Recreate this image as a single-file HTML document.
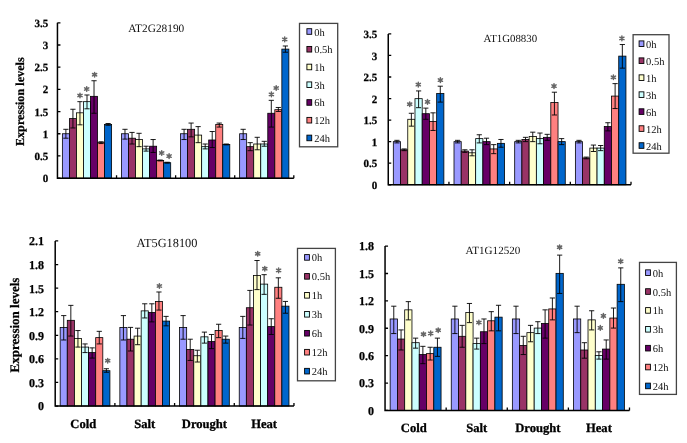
<!DOCTYPE html>
<html><head><meta charset="utf-8"><style>
html,body{margin:0;padding:0;background:#fff;}
body{width:687px;height:443px;overflow:hidden;}
svg{display:block;}
text{filter:grayscale(1);}
text{font-family:"Liberation Serif",serif;text-rendering:geometricPrecision;}
.tk{font-weight:bold;fill:#000;stroke:#000;stroke-width:0.25px;}
.tt{fill:#111;}
.lg{fill:#111;}
.yt{font-weight:bold;fill:#000;stroke:#000;stroke-width:0.25px;}
.ct{font-weight:bold;fill:#000;stroke:#000;stroke-width:0.3px;}
.sr{stroke:#666;stroke-width:1.5px;stroke-linecap:round;fill:none;}
</style></head><body>
<svg width="687" height="443" viewBox="0 0 687 443">
<rect width="687" height="443" fill="#fff"/>
<rect x="62.37" y="133.75" width="7.03" height="44.4" fill="#9999FF" stroke="#000" stroke-width="0.8"/>
<rect x="69.41" y="118.6" width="7.03" height="59.55" fill="#993366" stroke="#000" stroke-width="0.8"/>
<rect x="76.44" y="112.81" width="7.03" height="65.34" fill="#FFFFCC" stroke="#000" stroke-width="0.8"/>
<rect x="83.48" y="101.67" width="7.03" height="76.48" fill="#CCFFFF" stroke="#000" stroke-width="0.8"/>
<rect x="90.51" y="96.33" width="7.03" height="81.82" fill="#660066" stroke="#000" stroke-width="0.8"/>
<rect x="97.55" y="142.66" width="7.03" height="35.49" fill="#FF8080" stroke="#000" stroke-width="0.8"/>
<rect x="104.58" y="124.39" width="7.03" height="53.76" fill="#0066CC" stroke="#000" stroke-width="0.8"/>
<path d="M65.89 138.21V129.3M63.29 129.3H68.49M63.29 138.21H68.49" stroke="#000" stroke-width="0.9" fill="none"/>
<path d="M72.93 127.96V109.25M70.33 109.25H75.53M70.33 127.96H75.53" stroke="#000" stroke-width="0.9" fill="none"/>
<path d="M79.96 124.84V101.67M77.36 101.67H82.56M77.36 124.84H82.56" stroke="#000" stroke-width="0.9" fill="none"/>
<path d="M87 108.8V94.99M84.4 94.99H89.59M84.4 108.8H89.59" stroke="#000" stroke-width="0.9" fill="none"/>
<path d="M94.03 113.26V80.74M91.43 80.74H96.63M91.43 113.26H96.63" stroke="#000" stroke-width="0.9" fill="none"/>
<path d="M101.06 143.55V141.77M98.46 141.77H103.66M98.46 143.55H103.66" stroke="#000" stroke-width="0.9" fill="none"/>
<path d="M108.1 125.29V123.5M105.5 123.5H110.7M105.5 125.29H110.7" stroke="#000" stroke-width="0.9" fill="none"/>
<rect x="121.46" y="133.75" width="7.03" height="44.4" fill="#9999FF" stroke="#000" stroke-width="0.8"/>
<rect x="128.5" y="138.21" width="7.03" height="39.94" fill="#993366" stroke="#000" stroke-width="0.8"/>
<rect x="135.53" y="139.54" width="7.03" height="38.61" fill="#FFFFCC" stroke="#000" stroke-width="0.8"/>
<rect x="142.57" y="148.9" width="7.03" height="29.25" fill="#CCFFFF" stroke="#000" stroke-width="0.8"/>
<rect x="149.6" y="146.22" width="7.03" height="31.93" fill="#660066" stroke="#000" stroke-width="0.8"/>
<rect x="156.64" y="160.48" width="7.03" height="17.67" fill="#FF8080" stroke="#000" stroke-width="0.8"/>
<rect x="163.67" y="162.71" width="7.03" height="15.44" fill="#0066CC" stroke="#000" stroke-width="0.8"/>
<path d="M124.98 139.1V129.3M122.38 129.3H127.58M122.38 139.1H127.58" stroke="#000" stroke-width="0.9" fill="none"/>
<path d="M132.02 144V132.41M129.42 132.41H134.62M129.42 144H134.62" stroke="#000" stroke-width="0.9" fill="none"/>
<path d="M139.05 146.67V133.3M136.45 133.3H141.65M136.45 146.67H141.65" stroke="#000" stroke-width="0.9" fill="none"/>
<path d="M146.09 151.12V146.22M143.49 146.22H148.69M143.49 151.12H148.69" stroke="#000" stroke-width="0.9" fill="none"/>
<path d="M153.12 152.46V139.54M150.52 139.54H155.72M150.52 152.46H155.72" stroke="#000" stroke-width="0.9" fill="none"/>
<path d="M160.15 160.93V160.03M157.55 160.03H162.75M157.55 160.93H162.75" stroke="#000" stroke-width="0.9" fill="none"/>
<path d="M167.19 163.15V162.26M164.59 162.26H169.79M164.59 163.15H169.79" stroke="#000" stroke-width="0.9" fill="none"/>
<rect x="180.55" y="133.75" width="7.03" height="44.4" fill="#9999FF" stroke="#000" stroke-width="0.8"/>
<rect x="187.59" y="129.3" width="7.03" height="48.85" fill="#993366" stroke="#000" stroke-width="0.8"/>
<rect x="194.62" y="135.09" width="7.03" height="43.06" fill="#FFFFCC" stroke="#000" stroke-width="0.8"/>
<rect x="201.66" y="146.67" width="7.03" height="31.48" fill="#CCFFFF" stroke="#000" stroke-width="0.8"/>
<rect x="208.69" y="139.99" width="7.03" height="38.16" fill="#660066" stroke="#000" stroke-width="0.8"/>
<rect x="215.73" y="124.39" width="7.03" height="53.76" fill="#FF8080" stroke="#000" stroke-width="0.8"/>
<rect x="222.76" y="144.44" width="7.03" height="33.71" fill="#0066CC" stroke="#000" stroke-width="0.8"/>
<path d="M184.07 139.54V129.3M181.47 129.3H186.67M181.47 139.54H186.67" stroke="#000" stroke-width="0.9" fill="none"/>
<path d="M191.11 136.87V123.06M188.51 123.06H193.71M188.51 136.87H193.71" stroke="#000" stroke-width="0.9" fill="none"/>
<path d="M198.14 142.66V126.62M195.54 126.62H200.74M195.54 142.66H200.74" stroke="#000" stroke-width="0.9" fill="none"/>
<path d="M205.18 148.9V144M202.58 144H207.78M202.58 148.9H207.78" stroke="#000" stroke-width="0.9" fill="none"/>
<path d="M212.21 147.56V131.52M209.61 131.52H214.81M209.61 147.56H214.81" stroke="#000" stroke-width="0.9" fill="none"/>
<path d="M219.24 127.07V123.06M216.64 123.06H221.84M216.64 127.07H221.84" stroke="#000" stroke-width="0.9" fill="none"/>
<path d="M226.28 144.89V144M223.68 144H228.88M223.68 144.89H228.88" stroke="#000" stroke-width="0.9" fill="none"/>
<rect x="239.64" y="133.75" width="7.03" height="44.4" fill="#9999FF" stroke="#000" stroke-width="0.8"/>
<rect x="246.68" y="146.67" width="7.03" height="31.48" fill="#993366" stroke="#000" stroke-width="0.8"/>
<rect x="253.71" y="144" width="7.03" height="34.15" fill="#FFFFCC" stroke="#000" stroke-width="0.8"/>
<rect x="260.75" y="144" width="7.03" height="34.15" fill="#CCFFFF" stroke="#000" stroke-width="0.8"/>
<rect x="267.78" y="113.26" width="7.03" height="64.89" fill="#660066" stroke="#000" stroke-width="0.8"/>
<rect x="274.82" y="109.69" width="7.03" height="68.46" fill="#FF8080" stroke="#000" stroke-width="0.8"/>
<rect x="281.85" y="49.11" width="7.03" height="129.04" fill="#0066CC" stroke="#000" stroke-width="0.8"/>
<path d="M243.16 139.54V129.3M240.56 129.3H245.76M240.56 139.54H245.76" stroke="#000" stroke-width="0.9" fill="none"/>
<path d="M250.2 150.68V142.66M247.6 142.66H252.8M247.6 150.68H252.8" stroke="#000" stroke-width="0.9" fill="none"/>
<path d="M257.23 149.79V137.31M254.63 137.31H259.83M254.63 149.79H259.83" stroke="#000" stroke-width="0.9" fill="none"/>
<path d="M264.26 146.22V141.32M261.66 141.32H266.87M261.66 146.22H266.87" stroke="#000" stroke-width="0.9" fill="none"/>
<path d="M271.3 127.07V100.34M268.7 100.34H273.9M268.7 127.07H273.9" stroke="#000" stroke-width="0.9" fill="none"/>
<path d="M278.33 111.48V107.47M275.73 107.47H280.93M275.73 111.48H280.93" stroke="#000" stroke-width="0.9" fill="none"/>
<path d="M285.37 52.22V45.99M282.77 45.99H287.97M282.77 52.22H287.97" stroke="#000" stroke-width="0.9" fill="none"/>
<path d="M57.45 22.78V178.15H293.81" stroke="#000" stroke-width="1.5" fill="none"/>
<path d="M57.45 178.15h3M57.45 155.96h3M57.45 133.76h3M57.45 111.56h3M57.45 89.37h3M57.45 67.18h3M57.45 44.98h3M57.45 22.78h3M116.54 178.15v-3M175.63 178.15v-3M234.72 178.15v-3M293.81 178.15v-3" stroke="#000" stroke-width="1.3" fill="none"/>
<text x="48.2" y="182.25" class="tk" font-size="11" text-anchor="end">0</text>
<text x="48.2" y="160.06" class="tk" font-size="11" text-anchor="end">0.5</text>
<text x="48.2" y="137.86" class="tk" font-size="11" text-anchor="end">1</text>
<text x="48.2" y="115.66" class="tk" font-size="11" text-anchor="end">1.5</text>
<text x="48.2" y="93.47" class="tk" font-size="11" text-anchor="end">2</text>
<text x="48.2" y="71.28" class="tk" font-size="11" text-anchor="end">2.5</text>
<text x="48.2" y="49.08" class="tk" font-size="11" text-anchor="end">3</text>
<text x="48.2" y="26.88" class="tk" font-size="11" text-anchor="end">3.5</text>
<text x="128.2" y="31.9" class="tt" font-size="11.35">AT2G28190</text>
<path transform="translate(80 95.5)" class="sr" d="M0 -2.3V2.3M-2.1 -1.2L2.1 1.2M-2.1 1.2L2.1 -1.2"/>
<path transform="translate(86.7 89)" class="sr" d="M0 -2.3V2.3M-2.1 -1.2L2.1 1.2M-2.1 1.2L2.1 -1.2"/>
<path transform="translate(94.6 74.7)" class="sr" d="M0 -2.3V2.3M-2.1 -1.2L2.1 1.2M-2.1 1.2L2.1 -1.2"/>
<path transform="translate(161.7 153)" class="sr" d="M0 -2.3V2.3M-2.1 -1.2L2.1 1.2M-2.1 1.2L2.1 -1.2"/>
<path transform="translate(169.1 156.1)" class="sr" d="M0 -2.3V2.3M-2.1 -1.2L2.1 1.2M-2.1 1.2L2.1 -1.2"/>
<path transform="translate(271.4 94.4)" class="sr" d="M0 -2.3V2.3M-2.1 -1.2L2.1 1.2M-2.1 1.2L2.1 -1.2"/>
<path transform="translate(276.2 88)" class="sr" d="M0 -2.3V2.3M-2.1 -1.2L2.1 1.2M-2.1 1.2L2.1 -1.2"/>
<path transform="translate(284.7 39.4)" class="sr" d="M0 -2.3V2.3M-2.1 -1.2L2.1 1.2M-2.1 1.2L2.1 -1.2"/>
<rect x="299.5" y="23.4" width="38.2" height="123.4" fill="#fff" stroke="#444" stroke-width="1.3"/>
<rect x="306.9" y="28.7" width="4.8" height="5.6" fill="#9999FF" stroke="#000" stroke-width="0.9"/>
<text x="314.2" y="35.5" class="lg" font-size="10.5">0h</text>
<rect x="306.9" y="46.44" width="4.8" height="5.6" fill="#993366" stroke="#000" stroke-width="0.9"/>
<text x="314.2" y="53.24" class="lg" font-size="10.5">0.5h</text>
<rect x="306.9" y="64.18" width="4.8" height="5.6" fill="#FFFFCC" stroke="#000" stroke-width="0.9"/>
<text x="314.2" y="70.98" class="lg" font-size="10.5">1h</text>
<rect x="306.9" y="81.92" width="4.8" height="5.6" fill="#CCFFFF" stroke="#000" stroke-width="0.9"/>
<text x="314.2" y="88.72" class="lg" font-size="10.5">3h</text>
<rect x="306.9" y="99.66" width="4.8" height="5.6" fill="#660066" stroke="#000" stroke-width="0.9"/>
<text x="314.2" y="106.46" class="lg" font-size="10.5">6h</text>
<rect x="306.9" y="117.4" width="4.8" height="5.6" fill="#FF8080" stroke="#000" stroke-width="0.9"/>
<text x="314.2" y="124.2" class="lg" font-size="10.5">12h</text>
<rect x="306.9" y="135.14" width="4.8" height="5.6" fill="#0066CC" stroke="#000" stroke-width="0.9"/>
<text x="314.2" y="141.94" class="lg" font-size="10.5">24h</text>
<text transform="translate(23.6 101.7) rotate(-90)" class="yt" font-size="12.2" text-anchor="middle">Expression levels</text>
<rect x="393.31" y="141.63" width="7.22" height="43.12" fill="#9999FF" stroke="#000" stroke-width="0.8"/>
<rect x="400.53" y="149.79" width="7.22" height="34.96" fill="#993366" stroke="#000" stroke-width="0.8"/>
<rect x="407.76" y="119.29" width="7.22" height="65.46" fill="#FFFFCC" stroke="#000" stroke-width="0.8"/>
<rect x="414.98" y="98.66" width="7.22" height="86.09" fill="#CCFFFF" stroke="#000" stroke-width="0.8"/>
<rect x="422.21" y="113.7" width="7.22" height="71.05" fill="#660066" stroke="#000" stroke-width="0.8"/>
<rect x="429.43" y="121.43" width="7.22" height="63.32" fill="#FF8080" stroke="#000" stroke-width="0.8"/>
<rect x="436.66" y="93.5" width="7.22" height="91.25" fill="#0066CC" stroke="#000" stroke-width="0.8"/>
<path d="M396.92 142.92V140.34M394.32 140.34H399.52M394.32 142.92H399.52" stroke="#000" stroke-width="0.9" fill="none"/>
<path d="M404.15 150.65V148.93M401.55 148.93H406.75M401.55 150.65H406.75" stroke="#000" stroke-width="0.9" fill="none"/>
<path d="M411.37 126.16V113.27M408.77 113.27H413.97M408.77 126.16H413.97" stroke="#000" stroke-width="0.9" fill="none"/>
<path d="M418.6 107.68V90.93M416 90.93H421.2M416 107.68H421.2" stroke="#000" stroke-width="0.9" fill="none"/>
<path d="M425.82 119.29V108.11M423.22 108.11H428.42M423.22 119.29H428.42" stroke="#000" stroke-width="0.9" fill="none"/>
<path d="M433.05 130.46V112.84M430.44 112.84H435.65M430.44 130.46H435.65" stroke="#000" stroke-width="0.9" fill="none"/>
<path d="M440.27 102.1V86.2M437.67 86.2H442.87M437.67 102.1H442.87" stroke="#000" stroke-width="0.9" fill="none"/>
<rect x="454" y="141.63" width="7.22" height="43.12" fill="#9999FF" stroke="#000" stroke-width="0.8"/>
<rect x="461.22" y="151.08" width="7.22" height="33.67" fill="#993366" stroke="#000" stroke-width="0.8"/>
<rect x="468.45" y="152.8" width="7.22" height="31.95" fill="#FFFFCC" stroke="#000" stroke-width="0.8"/>
<rect x="475.67" y="138.62" width="7.22" height="46.13" fill="#CCFFFF" stroke="#000" stroke-width="0.8"/>
<rect x="482.9" y="141.63" width="7.22" height="43.12" fill="#660066" stroke="#000" stroke-width="0.8"/>
<rect x="490.12" y="148.93" width="7.22" height="35.82" fill="#FF8080" stroke="#000" stroke-width="0.8"/>
<rect x="497.35" y="143.35" width="7.22" height="41.4" fill="#0066CC" stroke="#000" stroke-width="0.8"/>
<path d="M457.61 142.92V140.34M455.01 140.34H460.21M455.01 142.92H460.21" stroke="#000" stroke-width="0.9" fill="none"/>
<path d="M464.84 152.37V149.79M462.24 149.79H467.44M462.24 152.37H467.44" stroke="#000" stroke-width="0.9" fill="none"/>
<path d="M472.06 155.81V149.79M469.46 149.79H474.66M469.46 155.81H474.66" stroke="#000" stroke-width="0.9" fill="none"/>
<path d="M479.29 142.92V134.75M476.69 134.75H481.89M476.69 142.92H481.89" stroke="#000" stroke-width="0.9" fill="none"/>
<path d="M486.51 144.64V138.19M483.91 138.19H489.11M483.91 144.64H489.11" stroke="#000" stroke-width="0.9" fill="none"/>
<path d="M493.74 153.66V144.64M491.13 144.64H496.34M491.13 153.66H496.34" stroke="#000" stroke-width="0.9" fill="none"/>
<path d="M500.96 147.22V139.48M498.36 139.48H503.56M498.36 147.22H503.56" stroke="#000" stroke-width="0.9" fill="none"/>
<rect x="514.69" y="141.63" width="7.22" height="43.12" fill="#9999FF" stroke="#000" stroke-width="0.8"/>
<rect x="521.91" y="139.48" width="7.22" height="45.27" fill="#993366" stroke="#000" stroke-width="0.8"/>
<rect x="529.14" y="136.47" width="7.22" height="48.28" fill="#FFFFCC" stroke="#000" stroke-width="0.8"/>
<rect x="536.36" y="138.62" width="7.22" height="46.13" fill="#CCFFFF" stroke="#000" stroke-width="0.8"/>
<rect x="543.59" y="137.33" width="7.22" height="47.42" fill="#660066" stroke="#000" stroke-width="0.8"/>
<rect x="550.81" y="102.53" width="7.22" height="82.22" fill="#FF8080" stroke="#000" stroke-width="0.8"/>
<rect x="558.04" y="141.63" width="7.22" height="43.12" fill="#0066CC" stroke="#000" stroke-width="0.8"/>
<path d="M518.3 142.92V140.34M515.7 140.34H520.9M515.7 142.92H520.9" stroke="#000" stroke-width="0.9" fill="none"/>
<path d="M525.52 141.63V137.33M522.92 137.33H528.12M522.92 141.63H528.12" stroke="#000" stroke-width="0.9" fill="none"/>
<path d="M532.75 141.63V132.18M530.15 132.18H535.35M530.15 141.63H535.35" stroke="#000" stroke-width="0.9" fill="none"/>
<path d="M539.97 143.78V133.04M537.37 133.04H542.57M537.37 143.78H542.57" stroke="#000" stroke-width="0.9" fill="none"/>
<path d="M547.2 140.34V134.33M544.6 134.33H549.8M544.6 140.34H549.8" stroke="#000" stroke-width="0.9" fill="none"/>
<path d="M554.42 114.99V92.21M551.82 92.21H557.02M551.82 114.99H557.02" stroke="#000" stroke-width="0.9" fill="none"/>
<path d="M561.65 144.64V138.62M559.05 138.62H564.25M559.05 144.64H564.25" stroke="#000" stroke-width="0.9" fill="none"/>
<rect x="575.38" y="141.63" width="7.22" height="43.12" fill="#9999FF" stroke="#000" stroke-width="0.8"/>
<rect x="582.6" y="157.96" width="7.22" height="26.79" fill="#993366" stroke="#000" stroke-width="0.8"/>
<rect x="589.83" y="148.08" width="7.22" height="36.67" fill="#FFFFCC" stroke="#000" stroke-width="0.8"/>
<rect x="597.05" y="148.08" width="7.22" height="36.67" fill="#CCFFFF" stroke="#000" stroke-width="0.8"/>
<rect x="604.28" y="126.59" width="7.22" height="58.16" fill="#660066" stroke="#000" stroke-width="0.8"/>
<rect x="611.5" y="96.08" width="7.22" height="88.67" fill="#FF8080" stroke="#000" stroke-width="0.8"/>
<rect x="618.73" y="56.12" width="7.22" height="128.63" fill="#0066CC" stroke="#000" stroke-width="0.8"/>
<path d="M578.99 142.92V140.34M576.39 140.34H581.59M576.39 142.92H581.59" stroke="#000" stroke-width="0.9" fill="none"/>
<path d="M586.21 158.82V157.1M583.61 157.1H588.81M583.61 158.82H588.81" stroke="#000" stroke-width="0.9" fill="none"/>
<path d="M593.44 151.51V145.07M590.84 145.07H596.04M590.84 151.51H596.04" stroke="#000" stroke-width="0.9" fill="none"/>
<path d="M600.66 150.65V145.5M598.06 145.5H603.26M598.06 150.65H603.26" stroke="#000" stroke-width="0.9" fill="none"/>
<path d="M607.89 130.89V122.72M605.29 122.72H610.49M605.29 130.89H610.49" stroke="#000" stroke-width="0.9" fill="none"/>
<path d="M615.11 108.54V83.62M612.51 83.62H617.71M612.51 108.54H617.71" stroke="#000" stroke-width="0.9" fill="none"/>
<path d="M622.34 68.15V44.52M619.74 44.52H624.94M619.74 68.15H624.94" stroke="#000" stroke-width="0.9" fill="none"/>
<path d="M388.25 33.9V184.75H631.01" stroke="#000" stroke-width="1.5" fill="none"/>
<path d="M388.25 184.75h3M388.25 163.2h3M388.25 141.65h3M388.25 120.1h3M388.25 98.55h3M388.25 77h3M388.25 55.45h3M388.25 33.9h3M448.94 184.75v-3M509.63 184.75v-3M570.32 184.75v-3M631.01 184.75v-3" stroke="#000" stroke-width="1.3" fill="none"/>
<text x="377.2" y="188.85" class="tk" font-size="11" text-anchor="end">0</text>
<text x="377.2" y="167.3" class="tk" font-size="11" text-anchor="end">0.5</text>
<text x="377.2" y="145.75" class="tk" font-size="11" text-anchor="end">1</text>
<text x="377.2" y="124.2" class="tk" font-size="11" text-anchor="end">1.5</text>
<text x="377.2" y="102.65" class="tk" font-size="11" text-anchor="end">2</text>
<text x="377.2" y="81.1" class="tk" font-size="11" text-anchor="end">2.5</text>
<text x="377.2" y="59.55" class="tk" font-size="11" text-anchor="end">3</text>
<text x="377.2" y="38" class="tk" font-size="11" text-anchor="end">3.5</text>
<text x="483.5" y="41.6" class="tt" font-size="10.85">AT1G08830</text>
<path transform="translate(409.7 104.2)" class="sr" d="M0 -2.3V2.3M-2.1 -1.2L2.1 1.2M-2.1 1.2L2.1 -1.2"/>
<path transform="translate(418.3 84.6)" class="sr" d="M0 -2.3V2.3M-2.1 -1.2L2.1 1.2M-2.1 1.2L2.1 -1.2"/>
<path transform="translate(427.5 101.9)" class="sr" d="M0 -2.3V2.3M-2.1 -1.2L2.1 1.2M-2.1 1.2L2.1 -1.2"/>
<path transform="translate(440.4 80.1)" class="sr" d="M0 -2.3V2.3M-2.1 -1.2L2.1 1.2M-2.1 1.2L2.1 -1.2"/>
<path transform="translate(554 86.1)" class="sr" d="M0 -2.3V2.3M-2.1 -1.2L2.1 1.2M-2.1 1.2L2.1 -1.2"/>
<path transform="translate(613.4 77.3)" class="sr" d="M0 -2.3V2.3M-2.1 -1.2L2.1 1.2M-2.1 1.2L2.1 -1.2"/>
<path transform="translate(621.9 38.4)" class="sr" d="M0 -2.3V2.3M-2.1 -1.2L2.1 1.2M-2.1 1.2L2.1 -1.2"/>
<rect x="633.1" y="34.7" width="35.9" height="118.5" fill="#fff" stroke="#444" stroke-width="1.3"/>
<rect x="639.1" y="40.9" width="4.8" height="5.6" fill="#9999FF" stroke="#000" stroke-width="0.9"/>
<text x="646" y="47.7" class="lg" font-size="10.5">0h</text>
<rect x="639.1" y="57.88" width="4.8" height="5.6" fill="#993366" stroke="#000" stroke-width="0.9"/>
<text x="646" y="64.68" class="lg" font-size="10.5">0.5h</text>
<rect x="639.1" y="74.85" width="4.8" height="5.6" fill="#FFFFCC" stroke="#000" stroke-width="0.9"/>
<text x="646" y="81.65" class="lg" font-size="10.5">1h</text>
<rect x="639.1" y="91.83" width="4.8" height="5.6" fill="#CCFFFF" stroke="#000" stroke-width="0.9"/>
<text x="646" y="98.62" class="lg" font-size="10.5">3h</text>
<rect x="639.1" y="108.8" width="4.8" height="5.6" fill="#660066" stroke="#000" stroke-width="0.9"/>
<text x="646" y="115.6" class="lg" font-size="10.5">6h</text>
<rect x="639.1" y="125.77" width="4.8" height="5.6" fill="#FF8080" stroke="#000" stroke-width="0.9"/>
<text x="646" y="132.57" class="lg" font-size="10.5">12h</text>
<rect x="639.1" y="142.75" width="4.8" height="5.6" fill="#0066CC" stroke="#000" stroke-width="0.9"/>
<text x="646" y="149.55" class="lg" font-size="10.5">24h</text>
<rect x="60.17" y="327.4" width="7.11" height="78.65" fill="#9999FF" stroke="#000" stroke-width="0.8"/>
<rect x="67.28" y="320.32" width="7.11" height="85.73" fill="#993366" stroke="#000" stroke-width="0.8"/>
<rect x="74.39" y="338.42" width="7.11" height="67.63" fill="#FFFFCC" stroke="#000" stroke-width="0.8"/>
<rect x="81.49" y="347.08" width="7.11" height="58.97" fill="#CCFFFF" stroke="#000" stroke-width="0.8"/>
<rect x="88.6" y="352.58" width="7.11" height="53.47" fill="#660066" stroke="#000" stroke-width="0.8"/>
<rect x="95.7" y="337.63" width="7.11" height="68.42" fill="#FF8080" stroke="#000" stroke-width="0.8"/>
<rect x="102.81" y="370.69" width="7.11" height="35.37" fill="#0066CC" stroke="#000" stroke-width="0.8"/>
<path d="M63.73 339.99V315.6M61.13 315.6H66.33M61.13 339.99H66.33" stroke="#000" stroke-width="0.9" fill="none"/>
<path d="M70.83 336.06V305.36M68.23 305.36H73.43M68.23 336.06H73.43" stroke="#000" stroke-width="0.9" fill="none"/>
<path d="M77.94 347.08V330.55M75.34 330.55H80.54M75.34 347.08H80.54" stroke="#000" stroke-width="0.9" fill="none"/>
<path d="M85.05 352.58V343.93M82.45 343.93H87.64M82.45 352.58H87.64" stroke="#000" stroke-width="0.9" fill="none"/>
<path d="M92.15 358.09V347.86M89.55 347.86H94.75M89.55 358.09H94.75" stroke="#000" stroke-width="0.9" fill="none"/>
<path d="M99.26 343.93V331.34M96.66 331.34H101.86M96.66 343.93H101.86" stroke="#000" stroke-width="0.9" fill="none"/>
<path d="M106.36 372.26V368.72M103.76 368.72H108.96M103.76 372.26H108.96" stroke="#000" stroke-width="0.9" fill="none"/>
<rect x="119.86" y="327.4" width="7.11" height="78.65" fill="#9999FF" stroke="#000" stroke-width="0.8"/>
<rect x="126.97" y="339.21" width="7.11" height="66.84" fill="#993366" stroke="#000" stroke-width="0.8"/>
<rect x="134.08" y="336.06" width="7.11" height="69.99" fill="#FFFFCC" stroke="#000" stroke-width="0.8"/>
<rect x="141.18" y="310.87" width="7.11" height="95.18" fill="#CCFFFF" stroke="#000" stroke-width="0.8"/>
<rect x="148.29" y="312.45" width="7.11" height="93.6" fill="#660066" stroke="#000" stroke-width="0.8"/>
<rect x="155.39" y="301.43" width="7.11" height="104.62" fill="#FF8080" stroke="#000" stroke-width="0.8"/>
<rect x="162.5" y="321.1" width="7.11" height="84.95" fill="#0066CC" stroke="#000" stroke-width="0.8"/>
<path d="M123.42 339.99V315.6M120.82 315.6H126.02M120.82 339.99H126.02" stroke="#000" stroke-width="0.9" fill="none"/>
<path d="M130.52 351.01V327.4M127.92 327.4H133.12M127.92 351.01H133.12" stroke="#000" stroke-width="0.9" fill="none"/>
<path d="M137.63 344.71V328.19M135.03 328.19H140.23M135.03 344.71H140.23" stroke="#000" stroke-width="0.9" fill="none"/>
<path d="M144.74 317.96V303.79M142.14 303.79H147.34M142.14 317.96H147.34" stroke="#000" stroke-width="0.9" fill="none"/>
<path d="M151.84 321.89V303.79M149.24 303.79H154.44M149.24 321.89H154.44" stroke="#000" stroke-width="0.9" fill="none"/>
<path d="M158.95 310.09V291.99M156.35 291.99H161.55M156.35 310.09H161.55" stroke="#000" stroke-width="0.9" fill="none"/>
<path d="M166.05 325.83V316.38M163.45 316.38H168.65M163.45 325.83H168.65" stroke="#000" stroke-width="0.9" fill="none"/>
<rect x="179.55" y="327.4" width="7.11" height="78.65" fill="#9999FF" stroke="#000" stroke-width="0.8"/>
<rect x="186.66" y="349.44" width="7.11" height="56.61" fill="#993366" stroke="#000" stroke-width="0.8"/>
<rect x="193.77" y="355.73" width="7.11" height="50.32" fill="#FFFFCC" stroke="#000" stroke-width="0.8"/>
<rect x="200.87" y="336.84" width="7.11" height="69.21" fill="#CCFFFF" stroke="#000" stroke-width="0.8"/>
<rect x="207.98" y="341.57" width="7.11" height="64.48" fill="#660066" stroke="#000" stroke-width="0.8"/>
<rect x="215.08" y="330.55" width="7.11" height="75.5" fill="#FF8080" stroke="#000" stroke-width="0.8"/>
<rect x="222.19" y="339.21" width="7.11" height="66.84" fill="#0066CC" stroke="#000" stroke-width="0.8"/>
<path d="M183.11 339.21V315.6M180.51 315.6H185.71M180.51 339.21H185.71" stroke="#000" stroke-width="0.9" fill="none"/>
<path d="M190.21 360.45V339.21M187.61 339.21H192.81M187.61 360.45H192.81" stroke="#000" stroke-width="0.9" fill="none"/>
<path d="M197.32 362.03V350.22M194.72 350.22H199.92M194.72 362.03H199.92" stroke="#000" stroke-width="0.9" fill="none"/>
<path d="M204.42 343.14V332.12M201.82 332.12H207.02M201.82 343.14H207.02" stroke="#000" stroke-width="0.9" fill="none"/>
<path d="M211.53 348.65V334.48M208.93 334.48H214.13M208.93 348.65H214.13" stroke="#000" stroke-width="0.9" fill="none"/>
<path d="M218.64 337.63V324.25M216.04 324.25H221.24M216.04 337.63H221.24" stroke="#000" stroke-width="0.9" fill="none"/>
<path d="M225.74 343.14V336.06M223.14 336.06H228.34M223.14 343.14H228.34" stroke="#000" stroke-width="0.9" fill="none"/>
<rect x="239.24" y="327.4" width="7.11" height="78.65" fill="#9999FF" stroke="#000" stroke-width="0.8"/>
<rect x="246.35" y="307.73" width="7.11" height="98.32" fill="#993366" stroke="#000" stroke-width="0.8"/>
<rect x="253.46" y="275.46" width="7.11" height="130.59" fill="#FFFFCC" stroke="#000" stroke-width="0.8"/>
<rect x="260.56" y="284.12" width="7.11" height="121.94" fill="#CCFFFF" stroke="#000" stroke-width="0.8"/>
<rect x="267.67" y="326.61" width="7.11" height="79.44" fill="#660066" stroke="#000" stroke-width="0.8"/>
<rect x="274.77" y="287.26" width="7.11" height="118.79" fill="#FF8080" stroke="#000" stroke-width="0.8"/>
<rect x="281.88" y="306.15" width="7.11" height="99.9" fill="#0066CC" stroke="#000" stroke-width="0.8"/>
<path d="M242.8 338.42V316.38M240.2 316.38H245.4M240.2 338.42H245.4" stroke="#000" stroke-width="0.9" fill="none"/>
<path d="M249.9 325.04V290.41M247.3 290.41H252.5M247.3 325.04H252.5" stroke="#000" stroke-width="0.9" fill="none"/>
<path d="M257.01 289.62V260.5M254.41 260.5H259.61M254.41 289.62H259.61" stroke="#000" stroke-width="0.9" fill="none"/>
<path d="M264.12 294.35V274.67M261.51 274.67H266.72M261.51 294.35H266.72" stroke="#000" stroke-width="0.9" fill="none"/>
<path d="M271.22 334.48V318.74M268.62 318.74H273.82M268.62 334.48H273.82" stroke="#000" stroke-width="0.9" fill="none"/>
<path d="M278.33 298.28V277.82M275.73 277.82H280.93M275.73 298.28H280.93" stroke="#000" stroke-width="0.9" fill="none"/>
<path d="M285.43 313.23V301.43M282.83 301.43H288.03M282.83 313.23H288.03" stroke="#000" stroke-width="0.9" fill="none"/>
<path d="M55.2 240.95V406.05H293.96" stroke="#000" stroke-width="1.5" fill="none"/>
<path d="M55.2 406.05h3M55.2 382.46h3M55.2 358.88h3M55.2 335.29h3M55.2 311.71h3M55.2 288.12h3M55.2 264.53h3M55.2 240.95h3M114.89 406.05v-3M174.58 406.05v-3M234.27 406.05v-3M293.96 406.05v-3" stroke="#000" stroke-width="1.3" fill="none"/>
<text x="44" y="410.45" class="tk" font-size="12" text-anchor="end">0</text>
<text x="44" y="386.86" class="tk" font-size="12" text-anchor="end">0.3</text>
<text x="44" y="363.28" class="tk" font-size="12" text-anchor="end">0.6</text>
<text x="44" y="339.69" class="tk" font-size="12" text-anchor="end">0.9</text>
<text x="44" y="316.11" class="tk" font-size="12" text-anchor="end">1.2</text>
<text x="44" y="292.52" class="tk" font-size="12" text-anchor="end">1.5</text>
<text x="44" y="268.93" class="tk" font-size="12" text-anchor="end">1.8</text>
<text x="44" y="245.35" class="tk" font-size="12" text-anchor="end">2.1</text>
<text x="136.4" y="247.1" class="tt" font-size="12.35">AT5G18100</text>
<path transform="translate(107.7 360.7)" class="sr" d="M0 -2.3V2.3M-2.1 -1.2L2.1 1.2M-2.1 1.2L2.1 -1.2"/>
<path transform="translate(159.4 286)" class="sr" d="M0 -2.3V2.3M-2.1 -1.2L2.1 1.2M-2.1 1.2L2.1 -1.2"/>
<path transform="translate(257.7 253.8)" class="sr" d="M0 -2.3V2.3M-2.1 -1.2L2.1 1.2M-2.1 1.2L2.1 -1.2"/>
<path transform="translate(264.8 268.7)" class="sr" d="M0 -2.3V2.3M-2.1 -1.2L2.1 1.2M-2.1 1.2L2.1 -1.2"/>
<path transform="translate(278.6 270.4)" class="sr" d="M0 -2.3V2.3M-2.1 -1.2L2.1 1.2M-2.1 1.2L2.1 -1.2"/>
<rect x="297.5" y="248.4" width="37.9" height="132.4" fill="#fff" stroke="#444" stroke-width="1.3"/>
<rect x="304.6" y="254.6" width="4.8" height="5.6" fill="#9999FF" stroke="#000" stroke-width="0.9"/>
<text x="311.8" y="261.4" class="lg" font-size="10.5">0h</text>
<rect x="304.6" y="273.56" width="4.8" height="5.6" fill="#993366" stroke="#000" stroke-width="0.9"/>
<text x="311.8" y="280.36" class="lg" font-size="10.5">0.5h</text>
<rect x="304.6" y="292.52" width="4.8" height="5.6" fill="#FFFFCC" stroke="#000" stroke-width="0.9"/>
<text x="311.8" y="299.32" class="lg" font-size="10.5">1h</text>
<rect x="304.6" y="311.48" width="4.8" height="5.6" fill="#CCFFFF" stroke="#000" stroke-width="0.9"/>
<text x="311.8" y="318.28" class="lg" font-size="10.5">3h</text>
<rect x="304.6" y="330.44" width="4.8" height="5.6" fill="#660066" stroke="#000" stroke-width="0.9"/>
<text x="311.8" y="337.24" class="lg" font-size="10.5">6h</text>
<rect x="304.6" y="349.4" width="4.8" height="5.6" fill="#FF8080" stroke="#000" stroke-width="0.9"/>
<text x="311.8" y="356.2" class="lg" font-size="10.5">12h</text>
<rect x="304.6" y="368.36" width="4.8" height="5.6" fill="#0066CC" stroke="#000" stroke-width="0.9"/>
<text x="311.8" y="375.16" class="lg" font-size="10.5">24h</text>
<text transform="translate(18.6 325) rotate(-90)" class="yt" font-size="13" text-anchor="middle">Expression levels</text>
<text x="83.25" y="427.7" class="ct" font-size="12.6" text-anchor="middle">Cold</text>
<text x="144.74" y="427.7" class="ct" font-size="12.6" text-anchor="middle">Salt</text>
<text x="204.43" y="427.7" class="ct" font-size="12.6" text-anchor="middle">Drought</text>
<text x="264.12" y="427.7" class="ct" font-size="12.6" text-anchor="middle">Heat</text>
<rect x="390.14" y="318.97" width="7.27" height="91.48" fill="#9999FF" stroke="#000" stroke-width="0.8"/>
<rect x="397.42" y="339.04" width="7.27" height="71.41" fill="#993366" stroke="#000" stroke-width="0.8"/>
<rect x="404.69" y="309.85" width="7.27" height="100.6" fill="#FFFFCC" stroke="#000" stroke-width="0.8"/>
<rect x="411.97" y="342.69" width="7.27" height="67.76" fill="#CCFFFF" stroke="#000" stroke-width="0.8"/>
<rect x="419.24" y="354.55" width="7.27" height="55.9" fill="#660066" stroke="#000" stroke-width="0.8"/>
<rect x="426.52" y="353.64" width="7.27" height="56.81" fill="#FF8080" stroke="#000" stroke-width="0.8"/>
<rect x="433.79" y="347.25" width="7.27" height="63.2" fill="#0066CC" stroke="#000" stroke-width="0.8"/>
<path d="M393.78 333.57V306.2M391.18 306.2H396.38M391.18 333.57H396.38" stroke="#000" stroke-width="0.9" fill="none"/>
<path d="M401.06 349.99V329.92M398.45 329.92H403.66M398.45 349.99H403.66" stroke="#000" stroke-width="0.9" fill="none"/>
<path d="M408.33 319.88V301.64M405.73 301.64H410.93M405.73 319.88H410.93" stroke="#000" stroke-width="0.9" fill="none"/>
<path d="M415.61 348.16V338.13M413 338.13H418.21M413 348.16H418.21" stroke="#000" stroke-width="0.9" fill="none"/>
<path d="M422.88 363.67V346.34M420.28 346.34H425.48M420.28 363.67H425.48" stroke="#000" stroke-width="0.9" fill="none"/>
<path d="M430.16 360.02V347.25M427.56 347.25H432.76M427.56 360.02H432.76" stroke="#000" stroke-width="0.9" fill="none"/>
<path d="M437.43 356.37V338.13M434.83 338.13H440.03M434.83 356.37H440.03" stroke="#000" stroke-width="0.9" fill="none"/>
<rect x="451.25" y="318.97" width="7.27" height="91.48" fill="#9999FF" stroke="#000" stroke-width="0.8"/>
<rect x="458.53" y="336.3" width="7.27" height="74.15" fill="#993366" stroke="#000" stroke-width="0.8"/>
<rect x="465.8" y="312.58" width="7.27" height="97.87" fill="#FFFFCC" stroke="#000" stroke-width="0.8"/>
<rect x="473.08" y="343.6" width="7.27" height="66.85" fill="#CCFFFF" stroke="#000" stroke-width="0.8"/>
<rect x="480.35" y="331.74" width="7.27" height="78.71" fill="#660066" stroke="#000" stroke-width="0.8"/>
<rect x="487.63" y="320.79" width="7.27" height="89.66" fill="#FF8080" stroke="#000" stroke-width="0.8"/>
<rect x="494.9" y="317.15" width="7.27" height="93.3" fill="#0066CC" stroke="#000" stroke-width="0.8"/>
<path d="M454.89 333.57V306.2M452.29 306.2H457.49M452.29 333.57H457.49" stroke="#000" stroke-width="0.9" fill="none"/>
<path d="M462.17 347.25V325.36M459.56 325.36H464.77M459.56 347.25H464.77" stroke="#000" stroke-width="0.9" fill="none"/>
<path d="M469.44 322.62V303.46M466.84 303.46H472.04M466.84 322.62H472.04" stroke="#000" stroke-width="0.9" fill="none"/>
<path d="M476.72 349.08V338.13M474.12 338.13H479.32M474.12 349.08H479.32" stroke="#000" stroke-width="0.9" fill="none"/>
<path d="M483.99 343.6V318.97M481.39 318.97H486.59M481.39 343.6H486.59" stroke="#000" stroke-width="0.9" fill="none"/>
<path d="M491.27 330.83V311.67M488.67 311.67H493.87M488.67 330.83H493.87" stroke="#000" stroke-width="0.9" fill="none"/>
<path d="M498.54 330.83V305.29M495.94 305.29H501.14M495.94 330.83H501.14" stroke="#000" stroke-width="0.9" fill="none"/>
<rect x="512.36" y="318.97" width="7.27" height="91.48" fill="#9999FF" stroke="#000" stroke-width="0.8"/>
<rect x="519.64" y="345.43" width="7.27" height="65.02" fill="#993366" stroke="#000" stroke-width="0.8"/>
<rect x="526.91" y="332.65" width="7.27" height="77.8" fill="#FFFFCC" stroke="#000" stroke-width="0.8"/>
<rect x="534.19" y="328.09" width="7.27" height="82.36" fill="#CCFFFF" stroke="#000" stroke-width="0.8"/>
<rect x="541.46" y="323.53" width="7.27" height="86.92" fill="#660066" stroke="#000" stroke-width="0.8"/>
<rect x="548.74" y="308.93" width="7.27" height="101.52" fill="#FF8080" stroke="#000" stroke-width="0.8"/>
<rect x="556.01" y="273.36" width="7.27" height="137.09" fill="#0066CC" stroke="#000" stroke-width="0.8"/>
<path d="M516 333.57V306.2M513.4 306.2H518.6M513.4 333.57H518.6" stroke="#000" stroke-width="0.9" fill="none"/>
<path d="M523.27 354.55V336.3M520.67 336.3H525.88M520.67 354.55H525.88" stroke="#000" stroke-width="0.9" fill="none"/>
<path d="M530.55 341.78V325.36M527.95 325.36H533.15M527.95 341.78H533.15" stroke="#000" stroke-width="0.9" fill="none"/>
<path d="M537.83 333.57V321.71M535.23 321.71H540.43M535.23 333.57H540.43" stroke="#000" stroke-width="0.9" fill="none"/>
<path d="M545.1 338.13V309.85M542.5 309.85H547.7M542.5 338.13H547.7" stroke="#000" stroke-width="0.9" fill="none"/>
<path d="M552.38 319.88V297.99M549.77 297.99H554.98M549.77 319.88H554.98" stroke="#000" stroke-width="0.9" fill="none"/>
<path d="M559.65 293.43V255.11M557.05 255.11H562.25M557.05 293.43H562.25" stroke="#000" stroke-width="0.9" fill="none"/>
<rect x="573.47" y="318.97" width="7.27" height="91.48" fill="#9999FF" stroke="#000" stroke-width="0.8"/>
<rect x="580.75" y="349.99" width="7.27" height="60.46" fill="#993366" stroke="#000" stroke-width="0.8"/>
<rect x="588.02" y="319.88" width="7.27" height="90.57" fill="#FFFFCC" stroke="#000" stroke-width="0.8"/>
<rect x="595.3" y="355.46" width="7.27" height="54.99" fill="#CCFFFF" stroke="#000" stroke-width="0.8"/>
<rect x="602.57" y="349.08" width="7.27" height="61.37" fill="#660066" stroke="#000" stroke-width="0.8"/>
<rect x="609.85" y="318.06" width="7.27" height="92.39" fill="#FF8080" stroke="#000" stroke-width="0.8"/>
<rect x="617.12" y="284.3" width="7.27" height="126.15" fill="#0066CC" stroke="#000" stroke-width="0.8"/>
<path d="M577.11 332.65V306.2M574.51 306.2H579.71M574.51 332.65H579.71" stroke="#000" stroke-width="0.9" fill="none"/>
<path d="M584.38 358.2V342.69M581.78 342.69H586.99M581.78 358.2H586.99" stroke="#000" stroke-width="0.9" fill="none"/>
<path d="M591.66 329.92V310.76M589.06 310.76H594.26M589.06 329.92H594.26" stroke="#000" stroke-width="0.9" fill="none"/>
<path d="M598.94 359.11V351.81M596.34 351.81H601.54M596.34 359.11H601.54" stroke="#000" stroke-width="0.9" fill="none"/>
<path d="M606.21 359.11V339.95M603.61 339.95H608.81M603.61 359.11H608.81" stroke="#000" stroke-width="0.9" fill="none"/>
<path d="M613.49 328.09V308.02M610.88 308.02H616.09M610.88 328.09H616.09" stroke="#000" stroke-width="0.9" fill="none"/>
<path d="M620.76 301.64V267.88M618.16 267.88H623.36M618.16 301.64H623.36" stroke="#000" stroke-width="0.9" fill="none"/>
<path d="M385.05 246.09V410.45H629.49" stroke="#000" stroke-width="1.5" fill="none"/>
<path d="M385.05 410.45h3M385.05 383.06h3M385.05 355.66h3M385.05 328.27h3M385.05 300.88h3M385.05 273.49h3M385.05 246.09h3M446.16 410.45v-3M507.27 410.45v-3M568.38 410.45v-3M629.49 410.45v-3" stroke="#000" stroke-width="1.3" fill="none"/>
<text x="374" y="414.85" class="tk" font-size="12" text-anchor="end">0</text>
<text x="374" y="387.46" class="tk" font-size="12" text-anchor="end">0.3</text>
<text x="374" y="360.06" class="tk" font-size="12" text-anchor="end">0.6</text>
<text x="374" y="332.67" class="tk" font-size="12" text-anchor="end">0.9</text>
<text x="374" y="305.28" class="tk" font-size="12" text-anchor="end">1.2</text>
<text x="374" y="277.88" class="tk" font-size="12" text-anchor="end">1.5</text>
<text x="374" y="250.49" class="tk" font-size="12" text-anchor="end">1.8</text>
<text x="465.5" y="253.9" class="tt" font-size="11.1">AT1G12520</text>
<path transform="translate(423.5 334.2)" class="sr" d="M0 -2.3V2.3M-2.1 -1.2L2.1 1.2M-2.1 1.2L2.1 -1.2"/>
<path transform="translate(430.7 333.4)" class="sr" d="M0 -2.3V2.3M-2.1 -1.2L2.1 1.2M-2.1 1.2L2.1 -1.2"/>
<path transform="translate(438.2 330.2)" class="sr" d="M0 -2.3V2.3M-2.1 -1.2L2.1 1.2M-2.1 1.2L2.1 -1.2"/>
<path transform="translate(478.9 322.5)" class="sr" d="M0 -2.3V2.3M-2.1 -1.2L2.1 1.2M-2.1 1.2L2.1 -1.2"/>
<path transform="translate(559.6 247.2)" class="sr" d="M0 -2.3V2.3M-2.1 -1.2L2.1 1.2M-2.1 1.2L2.1 -1.2"/>
<path transform="translate(600.3 327.9)" class="sr" d="M0 -2.3V2.3M-2.1 -1.2L2.1 1.2M-2.1 1.2L2.1 -1.2"/>
<path transform="translate(603.4 315.9)" class="sr" d="M0 -2.3V2.3M-2.1 -1.2L2.1 1.2M-2.1 1.2L2.1 -1.2"/>
<path transform="translate(620.7 261.3)" class="sr" d="M0 -2.3V2.3M-2.1 -1.2L2.1 1.2M-2.1 1.2L2.1 -1.2"/>
<rect x="639.5" y="262.4" width="36.9" height="132" fill="#fff" stroke="#444" stroke-width="1.3"/>
<rect x="645.6" y="269.85" width="4.8" height="5.6" fill="#9999FF" stroke="#000" stroke-width="0.9"/>
<text x="652.8" y="276.65" class="lg" font-size="10.5">0h</text>
<rect x="645.6" y="288.73" width="4.8" height="5.6" fill="#993366" stroke="#000" stroke-width="0.9"/>
<text x="652.8" y="295.53" class="lg" font-size="10.5">0.5h</text>
<rect x="645.6" y="307.61" width="4.8" height="5.6" fill="#FFFFCC" stroke="#000" stroke-width="0.9"/>
<text x="652.8" y="314.41" class="lg" font-size="10.5">1h</text>
<rect x="645.6" y="326.49" width="4.8" height="5.6" fill="#CCFFFF" stroke="#000" stroke-width="0.9"/>
<text x="652.8" y="333.29" class="lg" font-size="10.5">3h</text>
<rect x="645.6" y="345.37" width="4.8" height="5.6" fill="#660066" stroke="#000" stroke-width="0.9"/>
<text x="652.8" y="352.17" class="lg" font-size="10.5">6h</text>
<rect x="645.6" y="364.25" width="4.8" height="5.6" fill="#FF8080" stroke="#000" stroke-width="0.9"/>
<text x="652.8" y="371.05" class="lg" font-size="10.5">12h</text>
<rect x="645.6" y="383.13" width="4.8" height="5.6" fill="#0066CC" stroke="#000" stroke-width="0.9"/>
<text x="652.8" y="389.93" class="lg" font-size="10.5">24h</text>
<text x="413.81" y="431.9" class="ct" font-size="12.6" text-anchor="middle">Cold</text>
<text x="476.72" y="431.9" class="ct" font-size="12.6" text-anchor="middle">Salt</text>
<text x="537.83" y="431.9" class="ct" font-size="12.6" text-anchor="middle">Drought</text>
<text x="598.93" y="431.9" class="ct" font-size="12.6" text-anchor="middle">Heat</text>
</svg>
</body></html>
